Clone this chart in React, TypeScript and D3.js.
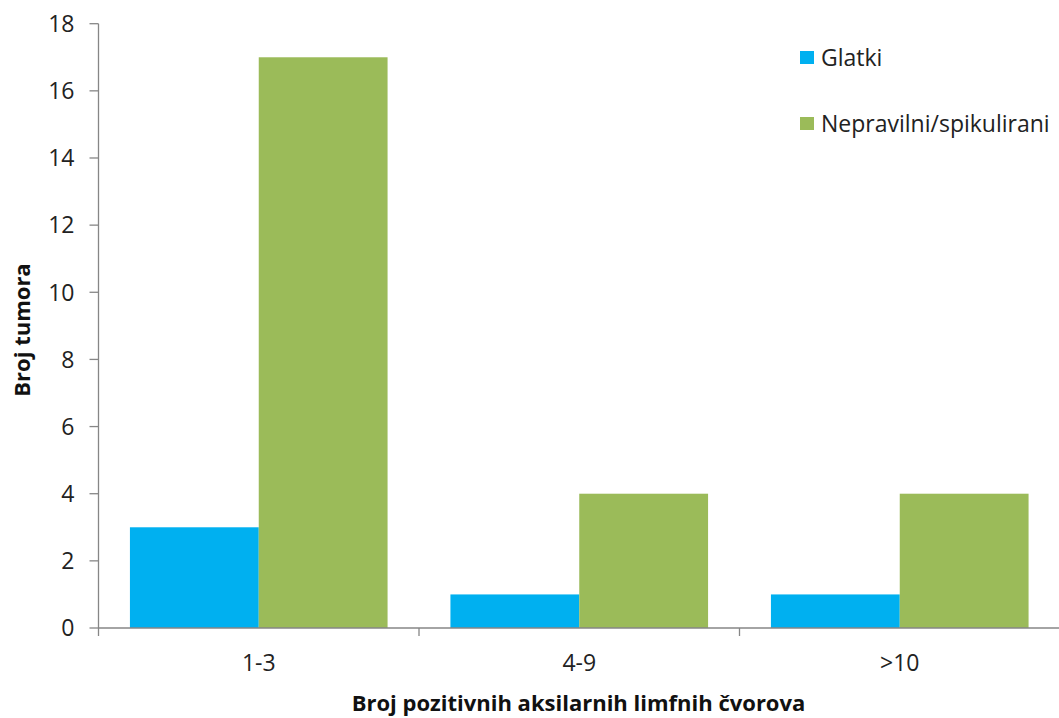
import React from "react";
import * as d3 from "d3";

const categories = ["1-3", "4-9", ">10"];
const seriesNames = ["Glatki", "Nepravilni/spikulirani"];
const glatki = [3, 1, 1];
const nepravilni = [17, 4, 4];
const yTicks = [0, 2, 4, 6, 8, 10, 12, 14, 16, 18];
const colors = ["#00B0F0", "#9BBB59"];

const W = 1059;
const H = 718;
const left = 98.5;
const right = 1060;
const top = 23.7;
const bottom = 628;
const font = "'Open Sans', sans-serif";

export default function App() {
  const x = d3.scaleBand<string>().domain(categories).range([left, right]).paddingInner(0).paddingOuter(0);
  const inner = d3.scaleBand<string>().domain(seriesNames).range([0, x.bandwidth()]).paddingInner(0).paddingOuter(0.244);
  const y = d3.scaleLinear().domain([0, 18]).range([bottom, top]);
  const series = [glatki, nepravilni];
  const axisColor = "#868686";

  return (
    <svg width={W} height={H} style={{ position: "absolute", left: 0, top: 0, background: "#fff" }}>
      {categories.map((c, i) =>
        series.map((s, j) => (
          <rect
            key={c + j}
            x={(x(c) as number) + (inner(seriesNames[j]) as number)}
            y={y(s[i])}
            width={inner.bandwidth()}
            height={bottom - y(s[i])}
            fill={colors[j]}
          />
        ))
      )}
      {/* y axis */}
      <line x1={left} x2={left} y1={top} y2={bottom} stroke={axisColor} strokeWidth={1.3} />
      {yTicks.map((t) => (
        <g key={t}>
          <line x1={left - 9} x2={left} y1={y(t)} y2={y(t)} stroke={axisColor} strokeWidth={1.3} />
          <text x={left - 24} y={y(t)} dy="0.36em" textAnchor="end" fontFamily={font} fontSize={23} fill="#222">
            {t}
          </text>
        </g>
      ))}
      {/* x axis */}
      <line x1={left} x2={right} y1={bottom} y2={bottom} stroke={axisColor} strokeWidth={1.3} />
      {[...categories.map((c) => x(c) as number), right].map((px, i) => (
        <line key={i} x1={px} x2={px} y1={bottom} y2={bottom + 8} stroke={axisColor} strokeWidth={1.3} />
      ))}
      {categories.map((c) => (
        <text
          key={c}
          x={(x(c) as number) + x.bandwidth() / 2}
          y={671}
          textAnchor="middle"
          fontFamily={font}
          fontSize={23}
          fill="#222"
        >
          {c}
        </text>
      ))}
      <text x={578.5} y={711} textAnchor="middle" fontFamily={font} fontSize={22} fontWeight="bold" fill="#111">
        Broj pozitivnih aksilarnih limfnih čvorova
      </text>
      <text
        transform={`translate(29.5,330) rotate(-90)`}
        textAnchor="middle"
        fontFamily={font}
        fontSize={22}
        fontWeight="bold"
        fill="#111"
      >
        Broj tumora
      </text>
      {/* legend */}
      {seriesNames.map((n, j) => (
        <g key={n} transform={`translate(800,${51 + j * 66})`}>
          <rect x={0} y={0} width={14} height={13} fill={colors[j]} />
          <text x={21} y={14.5} fontFamily={font} fontSize={23} fill="#222">
            {n}
          </text>
        </g>
      ))}
    </svg>
  );
}
